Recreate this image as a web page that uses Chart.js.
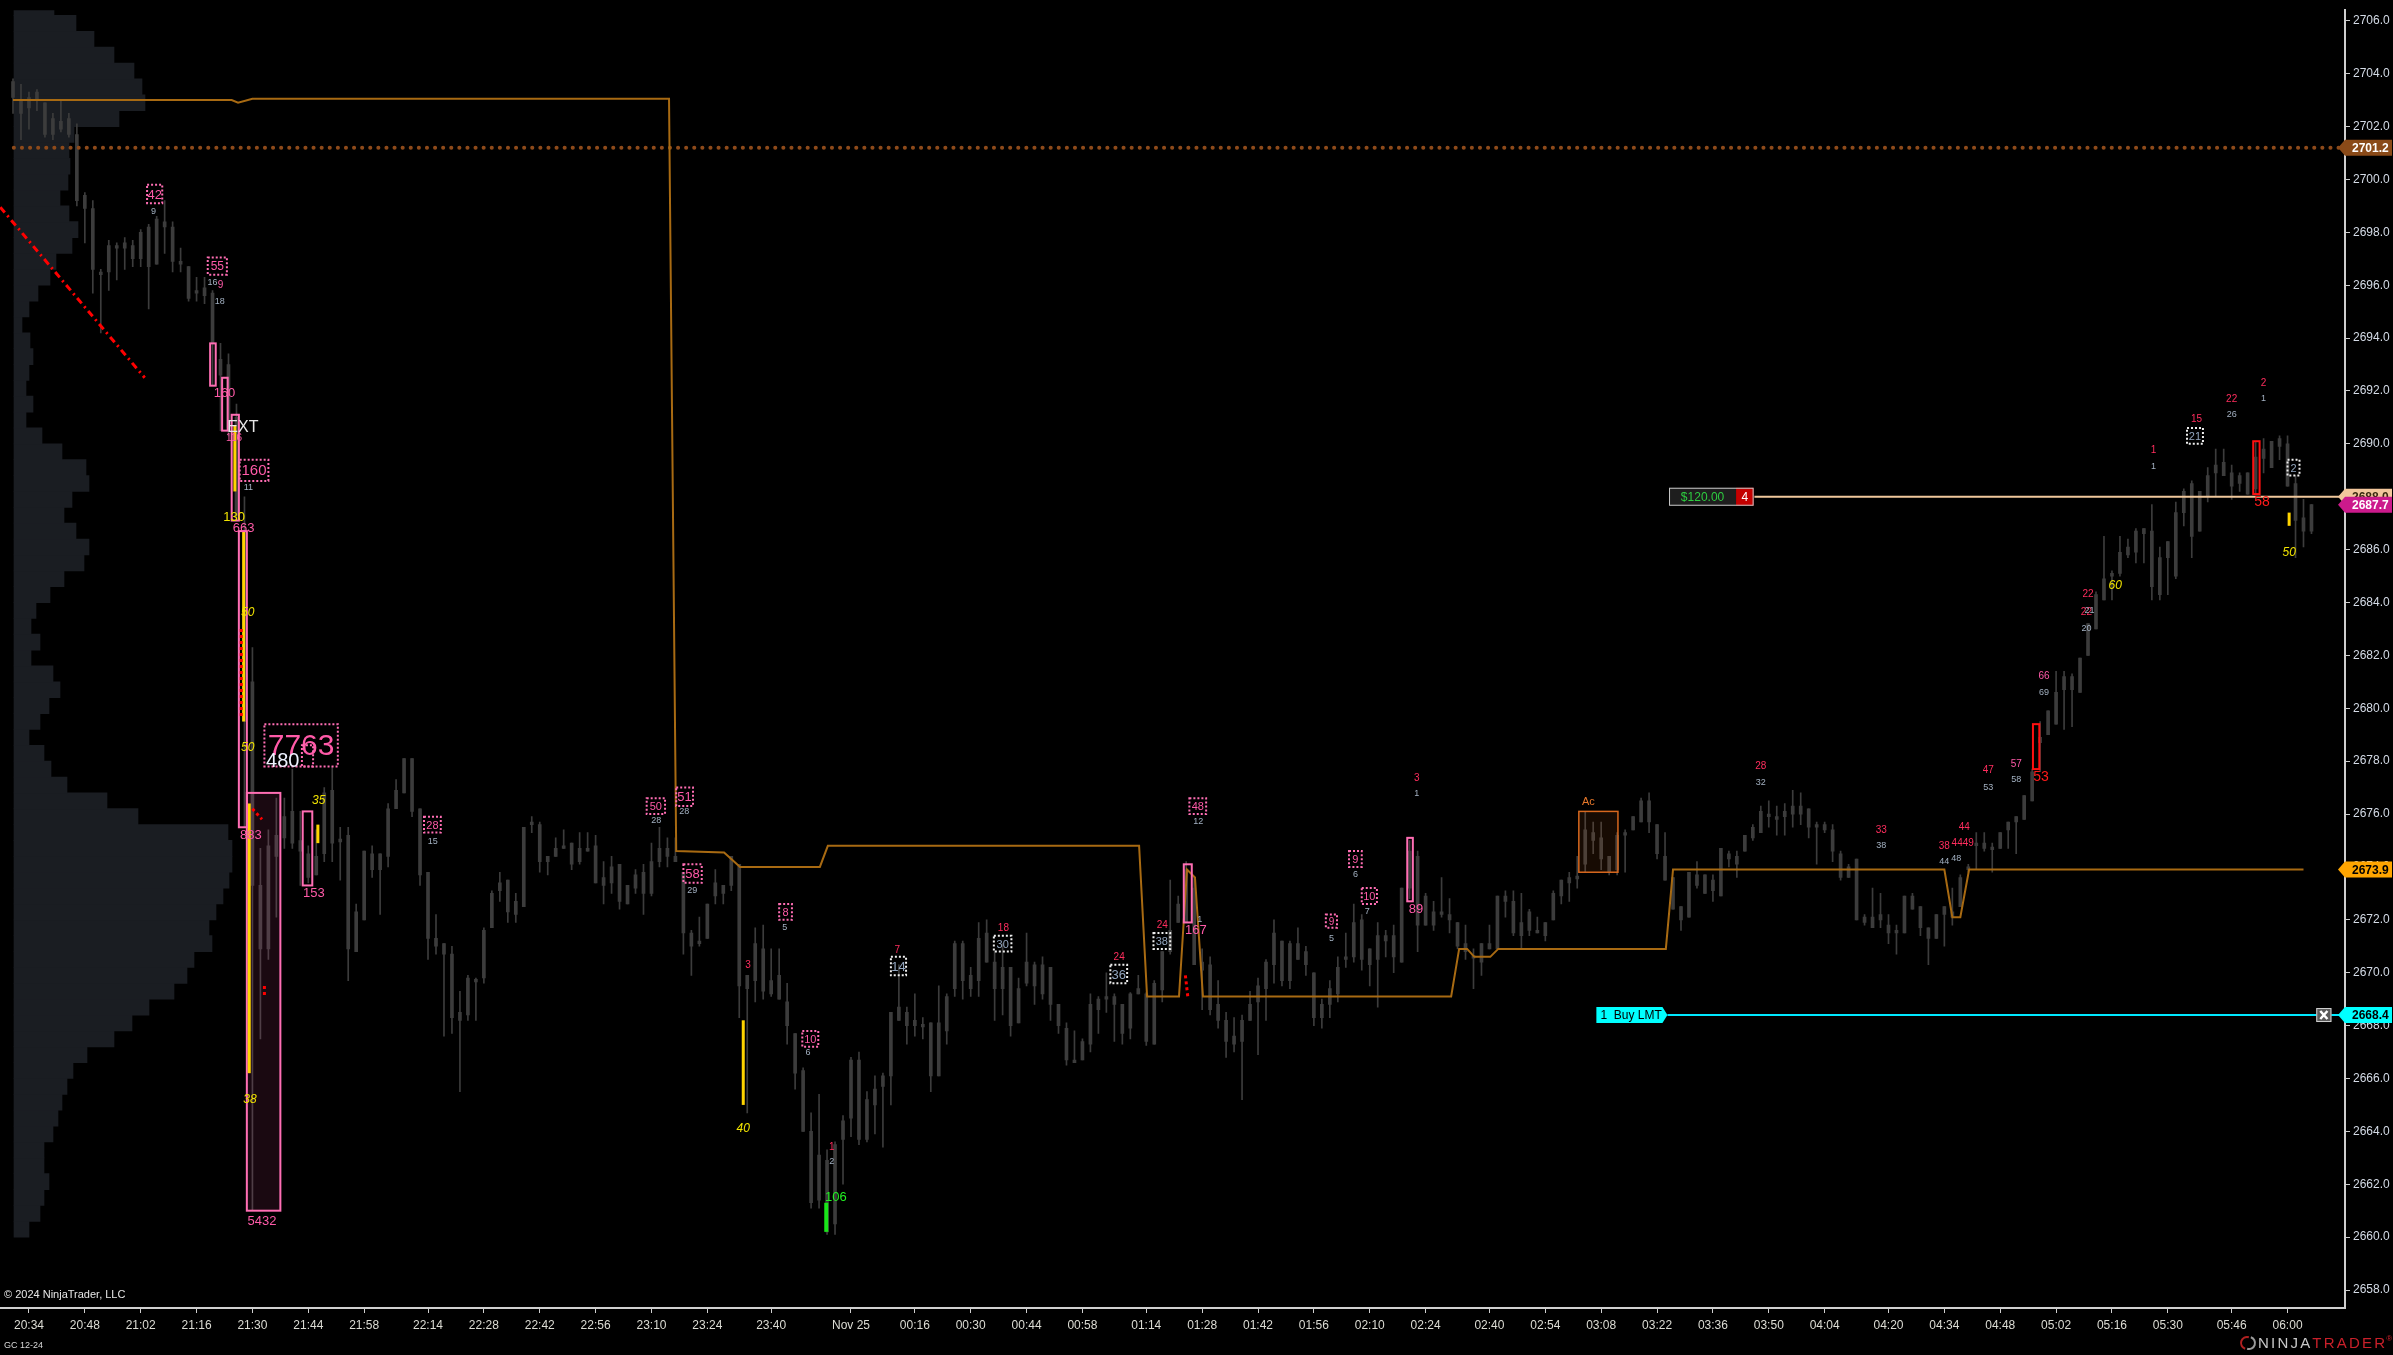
<!DOCTYPE html>
<html>
<head>
<meta charset="utf-8">
<title>GC 12-24</title>
<script src="https://cdn.jsdelivr.net/npm/chart.js@4.4.1/dist/chart.umd.min.js"></script>
<style>
  html, body { margin: 0; padding: 0; background: #000; }
  #chartBox { width: 2393px; height: 1355px; }
</style>
</head>
<body>
<div id="chartBox"><canvas id="priceChart" width="2393" height="1355"></canvas></div>
<script>
// 2-minute bars of GC 12-24, bar 0 = 20:30
const opens = [
  2703.7, 2703.0, 2702.7, 2703.3, 2702.9, 2701.7, 2702.2, 2701.7, 2701.7, 2699.4,
  2698.9, 2696.5, 2696.5, 2697.5, 2697.4, 2697.5, 2697.0, 2696.7, 2696.8, 2698.4,
  2698.2, 2696.9, 2696.7, 2695.7, 2695.6, 2695.7, 2693.2, 2693.0, 2691.0, 2686.7,
  2681.0, 2673.3, 2670.9, 2674.4, 2675.1, 2676.1, 2675.0, 2674.5, 2673.7, 2674.5,
  2676.9, 2675.05, 2675.2, 2670.8, 2672.0, 2674.5, 2673.9, 2674.4, 2676.2, 2676.8,
  2678.1, 2676.2, 2673.8, 2671.3, 2671.1, 2670.7, 2668.5, 2668.4, 2669.75, 2669.8,
  2671.7, 2673.1, 2673.5, 2672.2, 2672.5, 2675.6, 2675.6, 2674.2, 2674.4, 2674.7,
  2674.9, 2674.2, 2674.7, 2674.8, 2673.6, 2673.4, 2674.1, 2672.6, 2673.2, 2673.8,
  2673.0, 2674.2, 2674.7, 2674.4, 2673.8, 2671.5, 2671.1, 2671.3, 2672.9, 2673.3,
  2673.3, 2674.1, 2669.4, 2669.7, 2670.9, 2669.2, 2669.9, 2668.9, 2667.7, 2666.3,
  2664.0, 2661.4, 2662.9, 2660.5, 2663.7, 2664.5, 2666.7, 2663.7, 2665.0, 2665.7,
  2666.1, 2668.7, 2668.5, 2668.0, 2668.05, 2668.1, 2666.1, 2667.8, 2669.4, 2671.1,
  2669.9, 2669.7, 2671.5, 2670.4, 2669.4, 2670.2, 2668.1, 2669.6, 2670.3, 2669.2,
  2670.2, 2668.8, 2667.9, 2666.7, 2666.7, 2667.3, 2668.6, 2669.1, 2669.1, 2668.8,
  2667.9, 2669.2, 2669.2, 2667.3, 2669.35, 2670.8, 2671.9, 2671.9, 2673.2, 2670.4,
  2670.3, 2668.8, 2668.2, 2667.6, 2667.4, 2668.2, 2668.9, 2669.4, 2670.3, 2671.2,
  2669.7, 2671.1, 2670.8, 2670.0, 2668.3, 2668.8, 2669.2, 2670.5, 2670.6, 2672.0,
  2670.3, 2670.5, 2671.2, 2671.4, 2670.4, 2673.2, 2674.4, 2671.8, 2672.3, 2672.2,
  2672.2, 2671.9, 2671.1, 2670.65, 2670.4, 2670.9, 2670.9, 2672.9, 2672.7, 2671.4,
  2671.6, 2671.6, 2671.4, 2672.0, 2672.9, 2673.4, 2673.65, 2674.1, 2675.3, 2675.1,
  2674.4, 2673.9, 2675.3, 2675.4, 2675.7, 2676.5, 2675.6, 2674.4, 2673.6, 2672.5,
  2672.1, 2673.7, 2673.0, 2673.5, 2672.9, 2674.5, 2674.1, 2674.6, 2675.1, 2675.3,
  2676.0, 2675.9, 2675.9, 2676.0, 2676.3, 2676.2, 2675.6, 2675.4, 2675.4, 2674.5,
  2673.6, 2674.3, 2672.1, 2671.7, 2672.2, 2671.8, 2671.6, 2671.5, 2672.9, 2672.5,
  2671.7, 2671.3, 2672.2, 2672.3, 2672.5, 2673.9, 2674.8, 2674.9, 2674.75, 2674.7,
  2675.4, 2675.7, 2675.8, 2676.5, 2678.7, 2679.0, 2679.4, 2680.7, 2681.2, 2680.6,
  2682.0, 2683.0, 2684.1, 2685.0, 2685.1, 2685.8, 2685.9, 2686.6, 2686.7, 2684.3,
  2685.7, 2685.0, 2687.4, 2688.5, 2686.7, 2688.0, 2688.9, 2689.3, 2688.9, 2688.5,
  2688.9, 2688.3, 2689.45, 2689.1, 2690.2, 2690.0, 2688.5, 2687.2, 2686.7
];
const highs = [
  2703.8, 2703.6, 2703.3, 2703.4, 2702.9, 2702.5, 2703.0, 2702.5, 2702.1, 2699.5,
  2699.2, 2696.6, 2697.7, 2697.6, 2697.8, 2697.7, 2698.1, 2698.3, 2698.6, 2699.2,
  2698.4, 2697.4, 2696.7, 2696.3, 2696.3, 2695.8, 2693.8, 2693.4, 2691.5, 2688.0,
  2682.3, 2674.7, 2675.4, 2676.6, 2676.6, 2677.7, 2676.1, 2674.8, 2675.4, 2677.0,
  2677.8, 2675.5, 2675.5, 2672.6, 2674.6, 2674.8, 2674.5, 2676.4, 2677.3, 2678.1,
  2678.1, 2676.2, 2673.8, 2672.2, 2671.1, 2671.0, 2669.3, 2669.9, 2669.8, 2671.7,
  2673.1, 2673.8, 2673.5, 2673.0, 2675.5, 2675.9, 2675.7, 2674.4, 2675.1, 2675.4,
  2674.9, 2675.3, 2675.3, 2675.2, 2674.2, 2674.4, 2674.1, 2673.3, 2673.9, 2674.1,
  2674.9, 2675.5, 2675.1, 2675.1, 2673.8, 2671.6, 2672.1, 2672.6, 2673.9, 2673.3,
  2674.4, 2674.1, 2669.9, 2671.7, 2671.8, 2670.9, 2670.9, 2669.6, 2667.7, 2666.4,
  2664.7, 2665.4, 2663.3, 2663.6, 2664.6, 2666.8, 2667.0, 2665.5, 2666.1, 2666.2,
  2668.5, 2670.3, 2668.7, 2669.2, 2668.3, 2668.1, 2669.5, 2669.2, 2671.2, 2671.2,
  2670.2, 2671.9, 2672.0, 2670.8, 2671.1, 2670.2, 2669.8, 2671.5, 2670.4, 2670.6,
  2670.2, 2668.8, 2668.1, 2667.8, 2667.5, 2669.2, 2669.1, 2670.0, 2669.2, 2668.8,
  2669.25, 2669.9, 2669.25, 2669.7, 2670.8, 2673.5, 2672.9, 2674.2, 2673.6, 2670.9,
  2670.6, 2669.7, 2668.5, 2668.3, 2668.4, 2669.3, 2669.8, 2670.5, 2672.0, 2671.2,
  2671.2, 2671.7, 2671.0, 2670.0, 2669.0, 2669.7, 2670.6, 2671.5, 2672.6, 2672.2,
  2670.9, 2671.9, 2671.6, 2671.8, 2673.2, 2675.0, 2674.6, 2673.0, 2672.7, 2673.6,
  2672.8, 2671.9, 2671.8, 2670.9, 2671.1, 2671.8, 2672.9, 2673.1, 2673.1, 2673.0,
  2672.4, 2672.1, 2671.9, 2673.1, 2673.5, 2673.8, 2674.4, 2676.1, 2675.7, 2675.7,
  2674.4, 2675.3, 2675.4, 2675.9, 2676.6, 2676.8, 2675.6, 2675.3, 2673.6, 2672.5,
  2673.8, 2674.2, 2673.7, 2673.7, 2674.7, 2674.6, 2674.6, 2675.2, 2675.6, 2676.3,
  2676.5, 2676.3, 2676.4, 2676.9, 2676.8, 2676.2, 2675.7, 2675.7, 2675.6, 2674.6,
  2674.1, 2674.3, 2672.2, 2673.2, 2673.0, 2672.2, 2671.8, 2672.9, 2673.0, 2672.5,
  2671.7, 2672.2, 2672.5, 2673.2, 2673.7, 2674.1, 2675.3, 2675.3, 2674.9, 2675.3,
  2675.7, 2675.9, 2676.7, 2677.7, 2679.5, 2679.9, 2681.4, 2681.4, 2681.3, 2681.9,
  2683.2, 2684.4, 2686.5, 2685.2, 2686.5, 2686.4, 2686.8, 2686.8, 2687.7, 2686.1,
  2686.3, 2687.8, 2688.3, 2688.6, 2688.2, 2689.1, 2689.8, 2689.8, 2689.2, 2688.9,
  2688.9, 2690.1, 2690.2, 2690.1, 2690.3, 2690.3, 2688.8, 2687.9, 2687.7
];
const lows = [
  2702.5, 2701.5, 2701.9, 2702.6, 2701.6, 2701.5, 2701.8, 2701.6, 2699.0, 2697.6,
  2695.7, 2694.2, 2695.8, 2696.2, 2696.6, 2696.7, 2696.7, 2695.1, 2696.8, 2697.2,
  2696.5, 2696.5, 2695.4, 2695.4, 2695.3, 2692.2, 2690.5, 2690.3, 2687.1, 2675.5,
  2661.0, 2667.5, 2670.5, 2672.1, 2674.7, 2674.7, 2673.3, 2673.4, 2673.7, 2674.2,
  2674.2, 2673.5, 2669.7, 2670.8, 2672.0, 2673.6, 2672.2, 2674.0, 2676.2, 2676.8,
  2675.9, 2673.3, 2670.5, 2670.7, 2667.6, 2667.7, 2665.5, 2668.2, 2668.2, 2669.6,
  2671.7, 2672.7, 2671.9, 2671.9, 2672.5, 2675.3, 2673.8, 2673.7, 2674.4, 2674.7,
  2673.9, 2674.1, 2674.6, 2673.4, 2672.6, 2673.0, 2672.4, 2672.6, 2673.0, 2672.2,
  2672.9, 2674.0, 2674.0, 2674.2, 2670.7, 2669.9, 2671.0, 2671.3, 2672.6, 2672.6,
  2673.1, 2668.3, 2664.7, 2668.9, 2669.0, 2669.1, 2669.0, 2667.3, 2665.6, 2664.0,
  2661.1, 2661.1, 2660.1, 2660.1, 2662.0, 2663.8, 2663.5, 2663.6, 2663.9, 2663.4,
  2665.0, 2668.2, 2667.3, 2667.6, 2667.5, 2665.5, 2666.1, 2667.3, 2669.1, 2669.0,
  2669.1, 2669.1, 2670.4, 2668.2, 2668.4, 2667.6, 2668.1, 2669.5, 2668.8, 2669.0,
  2668.2, 2667.7, 2666.5, 2666.6, 2666.7, 2667.0, 2667.7, 2668.5, 2667.4, 2667.3,
  2667.5, 2669.2, 2667.25, 2667.3, 2668.9, 2670.7, 2671.9, 2671.9, 2670.3, 2668.6,
  2668.4, 2667.9, 2666.8, 2667.0, 2665.2, 2668.2, 2666.9, 2668.2, 2669.6, 2669.5,
  2669.4, 2670.5, 2669.9, 2668.0, 2667.9, 2668.3, 2668.9, 2670.2, 2670.4, 2670.1,
  2669.5, 2668.7, 2670.6, 2670.0, 2670.4, 2672.8, 2670.8, 2671.8, 2671.6, 2672.1,
  2671.5, 2670.9, 2670.5, 2669.4, 2669.9, 2670.9, 2670.9, 2672.1, 2671.4, 2670.9,
  2671.4, 2671.5, 2671.2, 2672.0, 2672.6, 2672.7, 2673.2, 2673.8, 2674.5, 2673.9,
  2673.7, 2673.7, 2673.8, 2675.4, 2675.7, 2675.3, 2674.3, 2673.5, 2672.4, 2671.6,
  2672.1, 2673.2, 2673.0, 2672.7, 2672.9, 2674.0, 2673.6, 2674.6, 2675.0, 2675.3,
  2675.5, 2675.2, 2675.2, 2675.5, 2675.6, 2675.1, 2674.1, 2675.3, 2674.2, 2673.5,
  2673.6, 2672.0, 2671.8, 2671.7, 2671.7, 2671.1, 2670.7, 2671.5, 2672.4, 2671.4,
  2670.3, 2671.3, 2671.0, 2671.8, 2672.5, 2673.8, 2673.9, 2674.6, 2673.8, 2674.7,
  2674.7, 2674.5, 2675.8, 2676.5, 2677.6, 2679.0, 2679.4, 2679.2, 2679.3, 2680.6,
  2682.0, 2683.0, 2684.1, 2684.1, 2685.0, 2685.7, 2685.5, 2685.5, 2684.1, 2684.1,
  2684.3, 2684.9, 2686.9, 2685.7, 2686.7, 2687.8, 2688.0, 2688.8, 2687.9, 2688.2,
  2688.1, 2688.1, 2688.9, 2689.1, 2689.4, 2688.4, 2685.7, 2686.1, 2686.6
];
const closes = [
  2703.1, 2702.5, 2703.1, 2703.0, 2701.7, 2702.3, 2701.9, 2702.3, 2699.2, 2698.9,
  2696.6, 2696.4, 2697.5, 2697.4, 2697.6, 2697.0, 2698.0, 2698.2, 2698.5, 2698.2,
  2696.9, 2696.8, 2695.5, 2695.8, 2695.9, 2693.8, 2692.6, 2690.6, 2687.3, 2679.5,
  2673.3, 2670.9, 2674.8, 2675.2, 2675.9, 2674.9, 2674.6, 2673.6, 2674.4, 2676.8,
  2674.9, 2674.95, 2670.9, 2672.3, 2674.6, 2673.9, 2674.5, 2676.2, 2676.9, 2678.1,
  2676.1, 2673.7, 2671.3, 2671.0, 2670.7, 2668.3, 2668.2, 2669.8, 2669.65, 2671.6,
  2673.0, 2673.4, 2672.3, 2672.7, 2675.5, 2675.7, 2674.2, 2674.4, 2674.7, 2674.8,
  2674.1, 2674.7, 2674.6, 2673.4, 2673.3, 2674.0, 2672.7, 2673.3, 2673.7, 2673.0,
  2674.2, 2674.7, 2674.4, 2674.2, 2671.5, 2671.0, 2671.2, 2672.6, 2673.4, 2673.0,
  2674.4, 2669.5, 2669.9, 2671.1, 2669.3, 2669.7, 2669.0, 2668.0, 2666.2, 2664.0,
  2661.3, 2663.1, 2660.2, 2663.5, 2664.4, 2666.7, 2663.7, 2665.2, 2665.6, 2666.1,
  2668.5, 2668.2, 2668.0, 2668.2, 2667.95, 2666.1, 2668.1, 2669.1, 2671.1, 2669.7,
  2669.4, 2671.3, 2670.4, 2669.4, 2670.2, 2668.0, 2669.4, 2670.4, 2669.5, 2670.3,
  2668.8, 2668.0, 2666.7, 2666.6, 2667.4, 2668.8, 2669.0, 2669.0, 2668.8, 2667.7,
  2669.2, 2669.4, 2667.4, 2669.6, 2670.8, 2671.6, 2672.6, 2673.9, 2670.3, 2670.1,
  2668.6, 2668.2, 2667.4, 2667.3, 2668.2, 2668.8, 2669.5, 2670.4, 2671.5, 2669.7,
  2671.1, 2670.5, 2670.3, 2668.3, 2668.8, 2669.4, 2670.2, 2670.6, 2671.9, 2670.5,
  2670.9, 2671.4, 2671.4, 2670.6, 2673.2, 2674.6, 2671.8, 2672.9, 2671.8, 2672.3,
  2672.0, 2671.0, 2670.8, 2670.55, 2671.1, 2671.1, 2672.9, 2672.7, 2671.5, 2671.9,
  2672.3, 2671.5, 2671.9, 2673.0, 2673.5, 2673.6, 2673.55, 2675.4, 2675.0, 2674.3,
  2673.8, 2675.2, 2675.2, 2675.9, 2676.5, 2675.7, 2674.5, 2673.5, 2672.4, 2672.0,
  2673.8, 2673.3, 2673.7, 2673.1, 2674.7, 2674.3, 2674.4, 2675.2, 2675.5, 2676.1,
  2675.9, 2675.8, 2676.1, 2676.3, 2676.0, 2675.5, 2675.5, 2675.6, 2674.6, 2673.6,
  2674.0, 2672.0, 2671.9, 2672.1, 2672.0, 2671.5, 2671.5, 2672.9, 2672.4, 2671.7,
  2671.3, 2672.2, 2672.5, 2672.1, 2673.6, 2674.0, 2674.9, 2674.7, 2674.65, 2675.3,
  2675.7, 2675.9, 2676.7, 2677.6, 2678.9, 2679.9, 2680.6, 2681.2, 2680.7, 2681.9,
  2683.2, 2684.3, 2684.9, 2685.1, 2685.9, 2686.1, 2686.7, 2686.8, 2684.6, 2685.7,
  2686.3, 2687.4, 2688.2, 2686.5, 2688.2, 2688.8, 2689.2, 2688.8, 2688.4, 2688.8,
  2688.1, 2689.5, 2689.8, 2690.1, 2689.9, 2688.4, 2687.1, 2686.7, 2687.7
];

// time axis (bar numbers) and its labels
const tickBars = [2, 9, 16, 23, 30, 37, 44, 52, 59, 66, 73, 80, 87, 95, 105, 113, 120, 127, 134, 142,
  149, 156, 163, 170, 177, 185, 192, 199, 206, 213, 220, 227, 235, 242, 249, 256, 263, 270, 278, 285];
const tickLabels = ['20:34', '20:48', '21:02', '21:16', '21:30', '21:44', '21:58', '22:14', '22:28', '22:42',
  '22:56', '23:10', '23:24', '23:40', 'Nov 25', '00:16', '00:30', '00:44', '00:58', '01:14',
  '01:28', '01:42', '01:56', '02:10', '02:24', '02:40', '02:54', '03:08', '03:22', '03:36',
  '03:50', '04:04', '04:20', '04:34', '04:48', '05:02', '05:16', '05:30', '05:46', '06:00'];
const priceTicks = [2658, 2660, 2662, 2664, 2666, 2668, 2670, 2672, 2674, 2676, 2678, 2680, 2682, 2684,
  2686, 2688, 2690, 2692, 2694, 2696, 2698, 2700, 2702, 2704, 2706];

// session volume profile
const profilePrices = [2660.3, 2660.9, 2661.5, 2662.1, 2662.7, 2663.3, 2663.9, 2664.5, 2665.1, 2665.7,
  2666.3, 2666.9, 2667.5, 2668.1, 2668.7, 2669.3, 2669.9, 2670.5, 2671.1, 2671.7,
  2672.3, 2672.9, 2673.5, 2674.1, 2674.7, 2675.3, 2675.9, 2676.5, 2677.1, 2677.7,
  2678.3, 2678.9, 2679.5, 2680.1, 2680.7, 2681.3, 2681.9, 2682.5, 2683.1, 2683.7,
  2684.3, 2684.9, 2685.5, 2686.1, 2686.7, 2687.3, 2687.9, 2688.5, 2689.1, 2689.7,
  2690.3, 2690.9, 2691.5, 2692.1, 2692.7, 2693.3, 2693.9, 2694.5, 2695.1, 2695.7,
  2696.3, 2696.9, 2697.5, 2698.1, 2698.7, 2699.3, 2699.9, 2700.5, 2701.1, 2701.7,
  2702.3, 2702.9, 2703.5, 2704.1, 2704.7, 2705.3, 2705.9, 2706.5];
const profileVolumes = [180, 312, 360, 420, 360, 360, 468, 528, 576, 636,
  708, 876, 1200, 1416, 1620, 1920, 2076, 2160, 2376, 2340,
  2424, 2508, 2580, 2616, 2616, 2568, 1488, 1116, 636, 444,
  360, 180, 312, 420, 552, 468, 204, 312, 204, 264,
  432, 600, 840, 900, 744, 600, 696, 900, 864, 576,
  336, 144, 228, 144, 180, 228, 192, 96, 180, 288,
  432, 504, 696, 768, 660, 552, 648, 672, 660, 720,
  1260, 1572, 1536, 1440, 1200, 960, 744, 480];

// orange level line
const levelBars = [0, 27.4, 28.2, 30, 82.2, 83.1, 89.1, 91.1, 101.1, 102.1, 141.1, 142.1, 146.1, 147.1, 148.1,
  149.1, 180.2, 181.2, 182.2, 183.1, 185.1, 186.1, 207.1, 208.0, 242.0, 243.0, 244.0, 245.1, 287.0];
const levelValues = [2703.0, 2703.0, 2702.9, 2703.05, 2703.05, 2674.6, 2674.55, 2674.0, 2674.0, 2674.8, 2674.8,
  2669.1, 2669.1, 2673.9, 2673.6, 2669.1, 2669.1, 2670.9, 2670.9, 2670.6, 2670.6, 2670.9, 2670.9,
  2673.9, 2673.9, 2672.1, 2672.1, 2673.9, 2673.9];

// drawn lines: [fromBar, price, toBar, price]
const trendLine = [-1.6, 2698.95, 16.5, 2692.5];
const dottedLevel = [0.1, 2701.2];
const targetLevel = [218.2, 2688.0];
const orderLevel = [207.3, 2668.4];

// price markers on the axis
const tagPrices = [2701.2, 2688.0, 2687.7, 2673.9, 2668.4];

// footprint marks: [fromBar, toBar, high, low, text]
const pinkDotBoxes = [
  [16.8, 18.7, 2699.8, 2699.1, '42'], [24.4, 26.8, 2697.05, 2696.4, '55'], [28.4, 32.0, 2689.4, 2688.6, '160'],
  [31.5, 40.7, 2679.4, 2677.8, '7763'], [36.2, 37.6, 2678.6, 2677.8, ''], [51.5, 53.6, 2675.9, 2675.3, '28'],
  [79.4, 81.7, 2676.6, 2676.0, '50'], [83.1, 85.2, 2677.0, 2676.3, '51'], [84.0, 86.3, 2674.1, 2673.4, '58'],
  [96.0, 97.6, 2672.6, 2672.0, '8'], [98.9, 100.9, 2667.8, 2667.2, '10'], [147.4, 149.5, 2676.6, 2676.0, '48'],
  [164.5, 165.9, 2672.2, 2671.7, '9'], [167.4, 169.0, 2674.6, 2674.0, '9'], [169.0, 170.9, 2673.2, 2672.6, '10']
];
const whiteDotBoxes = [
  [110.0, 111.9, 2670.6, 2669.9, '14'], [122.9, 125.1, 2671.4, 2670.8, '30'], [137.5, 139.6, 2670.3, 2669.6, '36'],
  [142.9, 145.0, 2671.5, 2670.9, '38'], [272.4, 274.4, 2690.6, 2690.0, '21'], [285.0, 286.5, 2689.4, 2688.8, '2']
];
const pinkBoxes = [
  [24.7, 25.4, 2693.8, 2692.2], [26.2, 26.9, 2692.5, 2690.5], [27.4, 28.3, 2691.1, 2687.1], [28.3, 29.3, 2686.7, 2675.5],
  [36.3, 37.5, 2676.1, 2673.3], [146.7, 147.7, 2674.1, 2671.9], [174.7, 175.4, 2675.1, 2672.7]
];
const pinkFilledBoxes = [[29.3, 33.5, 2676.8, 2661.0]];
const redBoxes = [[253.1, 253.9, 2679.4, 2677.7], [280.7, 281.5, 2690.1, 2688.1]];
const orangeBoxes = [[196.2, 201.1, 2676.1, 2673.8]];
// [bar, high, low]
const yellowBars = [[27.8, 2690.7, 2688.2], [28.9, 2686.7, 2679.5], [29.6, 2676.4, 2666.2], [38.2, 2675.6, 2674.9],
  [91.5, 2668.2, 2665.0], [285.2, 2687.4, 2686.9]];
const greenBars = [[101.9, 2661.3, 2660.2]];
// [fromBar, fromPrice, toBar, toPrice]
const redMarks = [[28.6, 2683.0, 28.6, 2679.6], [30.0, 2676.2, 31.2, 2675.8], [31.5, 2669.5, 31.5, 2669.1],
  [146.9, 2669.9, 147.2, 2669.1]];
// [bar, price, text, kind]
const notes = [
  [17.6, 2698.8, '9', 'gray'], [25.0, 2696.1, '16', 'gray'], [26.0, 2696.0, '9', 'pink'], [25.9, 2695.4, '18', 'gray'],
  [26.5, 2691.9, '160', 'pinkMid'], [28.8, 2690.6, 'EXT', 'whiteMid'], [27.7, 2690.2, '116', 'pink'],
  [29.5, 2688.35, '11', 'gray'], [27.7, 2687.2, '130', 'yellow'], [28.9, 2686.8, '663', 'pinkMid'],
  [29.4, 2683.6, '50', 'yellowIt'], [29.4, 2678.5, '50', 'yellowIt'], [29.8, 2675.2, '883', 'pinkMid'],
  [33.8, 2678.0, '480', 'whiteBig'], [29.7, 2665.2, '38', 'yellowIt'], [31.2, 2660.6, '5432', 'pinkMid'],
  [37.7, 2673.0, '153', 'pinkMid'], [38.3, 2676.5, '35', 'yellowIt'], [52.6, 2674.95, '15', 'gray'],
  [80.6, 2675.75, '28', 'gray'], [84.1, 2676.1, '28', 'gray'], [85.1, 2673.1, '29', 'gray'],
  [92.1, 2670.3, '3', 'red'], [91.5, 2664.1, '40', 'yellowIt'], [96.7, 2671.7, '5', 'gray'],
  [99.6, 2667.0, '6', 'gray'], [102.6, 2663.4, '1', 'red'], [102.6, 2662.85, '2', 'gray'],
  [103.1, 2661.5, '106', 'green'], [110.8, 2670.85, '7', 'red'], [124.1, 2671.7, '18', 'red'],
  [138.6, 2670.6, '24', 'red'], [144.0, 2671.8, '24', 'red'], [148.5, 2675.73, '12', 'gray'],
  [148.7, 2672.03, '1', 'gray'], [148.2, 2671.6, '167', 'pinkMid'], [165.2, 2671.3, '5', 'gray'],
  [168.2, 2673.73, '6', 'gray'], [169.7, 2672.3, '7', 'gray'], [175.8, 2672.4, '89', 'pinkMid'],
  [175.9, 2677.35, '3', 'red'], [175.9, 2676.76, '1', 'gray'], [197.4, 2676.45, 'Ac', 'orange'],
  [219.0, 2677.8, '28', 'red'], [219.0, 2677.2, '32', 'gray'], [234.1, 2675.4, '33', 'red'],
  [234.1, 2674.8, '38', 'gray'], [242.0, 2674.8, '38', 'red'], [242.0, 2674.2, '44', 'gray'],
  [244.5, 2675.5, '44', 'red'], [244.3, 2674.9, '4449', 'red'], [243.5, 2674.3, '48', 'gray'],
  [247.5, 2677.65, '47', 'red'], [247.5, 2677.0, '53', 'gray'], [251.0, 2677.9, '57', 'pink'],
  [251.0, 2677.3, '58', 'gray'], [254.1, 2677.4, '53', 'redMid'], [254.5, 2681.2, '66', 'pink'],
  [254.5, 2680.6, '69', 'gray'], [260.0, 2684.3, '22', 'red'], [259.8, 2683.65, '22', 'red'],
  [260.2, 2683.7, '21', 'gray'], [259.8, 2683.0, '20', 'gray'], [263.4, 2684.65, '60', 'yellowIt'],
  [268.2, 2689.74, '1', 'red'], [268.2, 2689.13, '1', 'gray'], [273.6, 2690.93, '15', 'red'],
  [278.0, 2691.7, '22', 'red'], [278.0, 2691.1, '26', 'gray'], [282.0, 2692.3, '2', 'red'],
  [282.0, 2691.7, '1', 'gray'], [281.8, 2687.8, '58', 'redMid'], [285.2, 2685.9, '50', 'yellowIt']
];
// open position and working order
const pnlBox = [207.5, 215.9, 218.1, 2688.0, '$120.00', '4'];
const orderBox = [198.4, 207.3, 2668.4, '1  Buy LMT'];
const closeButton = [288.6, 290.5, 2668.4];

const FONT = "'Liberation Sans', Arial, sans-serif";
const NARROW = "'Liberation Sans Narrow', 'Liberation Sans', Arial, sans-serif";
const textStyles = {
  pink: ['#ff5aa8', '10px'], red: ['#ff2d5e', '10px'], gray: ['#a3b1c2', '9px'],
  pinkMid: ['#ff5aa8', '13px'], redMid: ['#ff1a1a', '14px'], yellow: ['#f2e400', '13px'],
  yellowIt: ['#f2e400', 'italic 12px'], whiteMid: ['#e6e6e6', '16px'], whiteBig: ['#eef2ff', '20px'],
  green: ['#22f022', '13px'], orange: ['#e8782a', '11px']
};
const tagStyles = [['#8a4a18', '#ffffff'], ['#f2c79c', '#3a2a10'], ['#cc1a8c', '#ffffff'],
  ['#ffa500', '#000000'], ['#00ffff', '#000000']];

const xMin = -1.63, xMax = 292.2, yMin = 2657.32, yMax = 2706.4;
const plotHeight = 1355 - 47;
const profileRow = plotHeight / (yMax - yMin) * (profilePrices[1] - profilePrices[0]);

const overlay = {
  id: 'overlay',
  beforeDraw(chart) {
    const ctx = chart.ctx;
    ctx.save();
    ctx.fillStyle = '#000';
    ctx.fillRect(0, 0, chart.width, chart.height);
    ctx.restore();
  },
  afterDatasetsDraw(chart) {
    const ctx = chart.ctx, area = chart.chartArea;
    const X = v => chart.scales.x.getPixelForValue(v);
    const Y = v => chart.scales.y.getPixelForValue(v);
    ctx.save();
    ctx.beginPath();
    ctx.rect(area.left, area.top, area.right - area.left, area.bottom - area.top);
    ctx.clip();

    pinkFilledBoxes.forEach(b => {
      ctx.fillStyle = 'rgba(255, 90, 170, 0.10)';
      ctx.fillRect(X(b[0]), Y(b[2]), X(b[1]) - X(b[0]), Y(b[3]) - Y(b[2]));
      ctx.strokeStyle = '#ff6eb4';
      ctx.lineWidth = 2;
      ctx.strokeRect(X(b[0]), Y(b[2]), X(b[1]) - X(b[0]), Y(b[3]) - Y(b[2]));
    });
    orangeBoxes.forEach(b => {
      ctx.fillStyle = 'rgba(224, 112, 32, 0.10)';
      ctx.fillRect(X(b[0]), Y(b[2]), X(b[1]) - X(b[0]), Y(b[3]) - Y(b[2]));
      ctx.strokeStyle = '#d8681e';
      ctx.lineWidth = 1.5;
      ctx.strokeRect(X(b[0]), Y(b[2]), X(b[1]) - X(b[0]), Y(b[3]) - Y(b[2]));
    });
    yellowBars.forEach(b => {
      ctx.fillStyle = '#ffd400';
      ctx.fillRect(X(b[0]) - 1.5, Y(b[1]), 3, Y(b[2]) - Y(b[1]));
    });
    greenBars.forEach(b => {
      ctx.fillStyle = '#19e619';
      ctx.fillRect(X(b[0]) - 2, Y(b[1]), 4, Y(b[2]) - Y(b[1]));
    });
    pinkBoxes.forEach(b => {
      ctx.strokeStyle = '#ff6eb4';
      ctx.lineWidth = 2;
      ctx.strokeRect(X(b[0]), Y(b[2]), X(b[1]) - X(b[0]), Y(b[3]) - Y(b[2]));
    });
    redBoxes.forEach(b => {
      ctx.strokeStyle = '#ff1010';
      ctx.lineWidth = 2;
      ctx.strokeRect(X(b[0]), Y(b[2]), X(b[1]) - X(b[0]), Y(b[3]) - Y(b[2]));
    });
    redMarks.forEach(m => {
      ctx.strokeStyle = '#ff0000';
      ctx.lineWidth = 3;
      ctx.setLineDash([3, 3]);
      ctx.beginPath();
      ctx.moveTo(X(m[0]), Y(m[1]));
      ctx.lineTo(X(m[2]), Y(m[3]));
      ctx.stroke();
      ctx.setLineDash([]);
    });

    const dotBox = (b, color, textColor) => {
      const x0 = X(b[0]), x1 = X(b[1]), y0 = Y(b[2]), y1 = Y(b[3]);
      ctx.strokeStyle = color;
      ctx.lineWidth = 2;
      ctx.setLineDash([2, 2]);
      ctx.strokeRect(x0, y0, x1 - x0, y1 - y0);
      ctx.setLineDash([]);
      if (b[4]) {
        ctx.fillStyle = textColor;
        ctx.font = Math.round((y1 - y0) * 0.72) + 'px ' + FONT;
        ctx.textAlign = 'center';
        ctx.textBaseline = 'middle';
        ctx.fillText(b[4], (x0 + x1) / 2, (y0 + y1) / 2 + 1);
      }
    };
    pinkDotBoxes.forEach(b => dotBox(b, '#ff6eb4', '#ff5aa8'));
    whiteDotBoxes.forEach(b => dotBox(b, '#eeeeee', '#93a6bf'));

    notes.forEach(n => {
      const st = textStyles[n[3]];
      ctx.fillStyle = st[0];
      ctx.font = st[1] + ' ' + FONT;
      ctx.textAlign = 'center';
      ctx.textBaseline = 'middle';
      ctx.fillText(n[2], X(n[0]), Y(n[1]));
    });

    // © line inside the price panel
    ctx.fillStyle = '#e6e6e6';
    ctx.font = '11px ' + NARROW;
    ctx.textAlign = 'left';
    ctx.textBaseline = 'middle';
    ctx.fillText('\u00a9 2024 NinjaTrader, LLC', 4, area.bottom - 13);
    ctx.restore();
  },
  afterDraw(chart) {
    const ctx = chart.ctx, area = chart.chartArea;
    const X = v => chart.scales.x.getPixelForValue(v);
    const Y = v => chart.scales.y.getPixelForValue(v);
    ctx.save();

    // open P&L box on the target line
    {
      const x0 = X(pnlBox[0]), xs = X(pnlBox[1]), x1 = X(pnlBox[2]), y = Y(pnlBox[3]);
      ctx.fillStyle = '#1e1e1e';
      ctx.fillRect(x0, y - 9, xs - x0, 18);
      ctx.fillStyle = '#c40000';
      ctx.fillRect(xs, y - 9, x1 - xs, 18);
      ctx.strokeStyle = '#c8c8c8';
      ctx.lineWidth = 1;
      ctx.strokeRect(x0 + 0.5, y - 8.5, x1 - x0 - 1, 17);
      ctx.font = '12px ' + NARROW;
      ctx.textAlign = 'center';
      ctx.textBaseline = 'middle';
      ctx.fillStyle = '#2ecc40';
      ctx.fillText(pnlBox[4], (x0 + xs) / 2, y + 1);
      ctx.fillStyle = '#ffffff';
      ctx.fillText(pnlBox[5], (xs + x1) / 2, y + 1);
    }
    // working buy limit order
    {
      const x0 = X(orderBox[0]), x1 = X(orderBox[1]), y = Y(orderBox[2]);
      ctx.fillStyle = '#00ffff';
      ctx.beginPath();
      ctx.moveTo(x0, y - 8);
      ctx.lineTo(x1 - 5, y - 8);
      ctx.lineTo(x1, y);
      ctx.lineTo(x1 - 5, y + 8);
      ctx.lineTo(x0, y + 8);
      ctx.closePath();
      ctx.fill();
      ctx.fillStyle = '#000';
      ctx.font = '12px ' + NARROW;
      ctx.textAlign = 'left';
      ctx.textBaseline = 'middle';
      ctx.fillText(orderBox[3], x0 + 4, y + 1);
      const c0 = X(closeButton[0]), c1 = X(closeButton[1]), cy = Y(closeButton[2]);
      ctx.fillStyle = '#5a5a5a';
      ctx.fillRect(c0, cy - 7, c1 - c0, 14);
      ctx.strokeStyle = '#d0d0d0';
      ctx.strokeRect(c0 + 0.5, cy - 6.5, c1 - c0 - 1, 13);
      ctx.strokeStyle = '#ffffff';
      ctx.lineWidth = 2.5;
      ctx.beginPath();
      ctx.moveTo(c0 + 4, cy - 4); ctx.lineTo(c1 - 4, cy + 4);
      ctx.moveTo(c1 - 4, cy - 4); ctx.lineTo(c0 + 4, cy + 4);
      ctx.stroke();
    }

    // price tags on the axis
    tagPrices.forEach((p, i) => {
      const y = Y(p), left = area.right, right = chart.width - 1;
      ctx.beginPath();
      ctx.moveTo(left - 7, y);
      ctx.lineTo(left, y - 8);
      ctx.lineTo(right, y - 8);
      ctx.lineTo(right, y + 8);
      ctx.lineTo(left, y + 8);
      ctx.closePath();
      ctx.fillStyle = tagStyles[i][0];
      ctx.fill();
      ctx.fillStyle = tagStyles[i][1];
      ctx.font = 'bold 12px ' + FONT;
      ctx.textAlign = 'left';
      ctx.textBaseline = 'middle';
      ctx.fillText(p.toFixed(1), left + 7, y + 1);
    });

    // footer
    ctx.fillStyle = '#d8d8d8';
    ctx.font = '9px ' + NARROW;
    ctx.textAlign = 'left';
    ctx.textBaseline = 'middle';
    ctx.fillText('GC 12-24', 4, chart.height - 9);

    const ly = chart.height - 12;
    ctx.strokeStyle = '#b02020';
    ctx.lineWidth = 2;
    ctx.beginPath();
    ctx.arc(2247, ly, 6, 0.6 * Math.PI, 1.6 * Math.PI);
    ctx.stroke();
    ctx.strokeStyle = '#9a9a9a';
    ctx.beginPath();
    ctx.arc(2249, ly, 6, 1.6 * Math.PI, 2.6 * Math.PI);
    ctx.stroke();
    ctx.font = '15px ' + FONT;
    let lx = 2258;
    'NINJATRADER'.split('').forEach((ch, i) => {
      ctx.fillStyle = i < 5 ? '#c8c8c8' : '#c8202a';
      ctx.fillText(ch, lx, ly + 1);
      lx += ctx.measureText(ch).width + 2.2;
    });
    ctx.fillStyle = '#c8202a';
    ctx.font = '8px ' + FONT;
    ctx.fillText('\u00ae', lx - 1, ly - 4);
    ctx.restore();
  }
};

const lineStyle = { type: 'line', pointRadius: 0, fill: false, xAxisID: 'x', yAxisID: 'y' };

new Chart(document.getElementById('priceChart'), {
  type: 'bar',
  data: {
    datasets: [
      {
        type: 'bar', label: 'Volume profile', indexAxis: 'y', xAxisID: 'xp', yAxisID: 'yp',
        data: profilePrices.map((p, i) => ({ x: profileVolumes[i], y: p })),
        backgroundColor: '#1a1d22', barThickness: profileRow, grouped: false, order: 10
      },
      {
        type: 'bar', label: 'Wicks', xAxisID: 'x', yAxisID: 'y',
        data: lows.map((l, i) => ({ x: i, y: [l, highs[i]] })),
        backgroundColor: '#3c3c3c', barThickness: 1, grouped: false, minBarLength: 1, order: 6
      },
      {
        type: 'bar', label: 'Bodies', xAxisID: 'x', yAxisID: 'y',
        data: opens.map((o, i) => ({ x: i, y: [o, closes[i]] })),
        backgroundColor: '#3c3c3c', barThickness: 3, grouped: false, minBarLength: 1, order: 5
      },
      {
        ...lineStyle, label: 'Level',
        data: levelBars.map((b, i) => ({ x: b, y: levelValues[i] })),
        borderColor: '#a86a12', borderWidth: 2, order: 2
      },
      {
        ...lineStyle, label: 'Dotted',
        data: [{ x: dottedLevel[0], y: dottedLevel[1] }, { x: xMax, y: dottedLevel[1] }],
        borderColor: '#8e4a1a', borderWidth: 4, borderDash: [0.1, 8], borderCapStyle: 'round', order: 3
      },
      {
        ...lineStyle, label: 'Trend',
        data: [{ x: trendLine[0], y: trendLine[1] }, { x: trendLine[2], y: trendLine[3] }],
        borderColor: '#ff0000', borderWidth: 3, borderDash: [7, 4, 2, 4], order: 3
      },
      {
        ...lineStyle, label: 'Target',
        data: [{ x: targetLevel[0], y: targetLevel[1] }, { x: xMax, y: targetLevel[1] }],
        borderColor: '#f0c89c', borderWidth: 2, order: 1
      },
      {
        ...lineStyle, label: 'Order',
        data: [{ x: orderLevel[0], y: orderLevel[1] }, { x: xMax, y: orderLevel[1] }],
        borderColor: '#00e8ff', borderWidth: 2, order: 1
      }
    ]
  },
  options: {
    responsive: false,
    animation: false,
    devicePixelRatio: 1,
    layout: { padding: 0, autoPadding: false },
    plugins: { legend: { display: false }, tooltip: { enabled: false } },
    scales: {
      x: {
        type: 'linear', position: 'bottom', min: xMin, max: xMax, offset: false,
        afterBuildTicks: s => { s.ticks = tickBars.map(v => ({ value: v })); },
        afterFit: s => { s.height = 47; },
        ticks: {
          autoSkip: false, maxRotation: 0, padding: 5, color: '#dcdcd4',
          font: { family: NARROW, size: 12 },
          callback: (v, i) => tickLabels[i]
        },
        grid: { offset: false, drawOnChartArea: false, drawTicks: true, tickLength: 5, color: '#cfcfcf' },
        border: { display: true, color: '#cfcfcf', width: 2 }
      },
      y: {
        type: 'linear', position: 'right', min: yMin, max: yMax, offset: false,
        afterBuildTicks: s => { s.ticks = priceTicks.map(v => ({ value: v })); },
        afterFit: s => { s.width = 48; },
        ticks: {
          padding: 3, color: '#d4dbe6',
          font: { family: FONT, size: 12 },
          callback: v => v.toFixed(1)
        },
        grid: { drawOnChartArea: false, drawTicks: true, tickLength: 5, color: '#cfcfcf' },
        border: { display: true, color: '#cfcfcf', width: 2 }
      },
      xp: { type: 'linear', display: false, offset: false, grid: { offset: false }, min: -168, max: 27972 },
      yp: {
        type: 'linear', display: false, offset: false, grid: { offset: false }, min: yMin, max: yMax,
        afterBuildTicks: s => { s.ticks = profilePrices.map(v => ({ value: v })); }
      }
    }
  },
  plugins: [overlay]
});
</script>
</body>
</html>
